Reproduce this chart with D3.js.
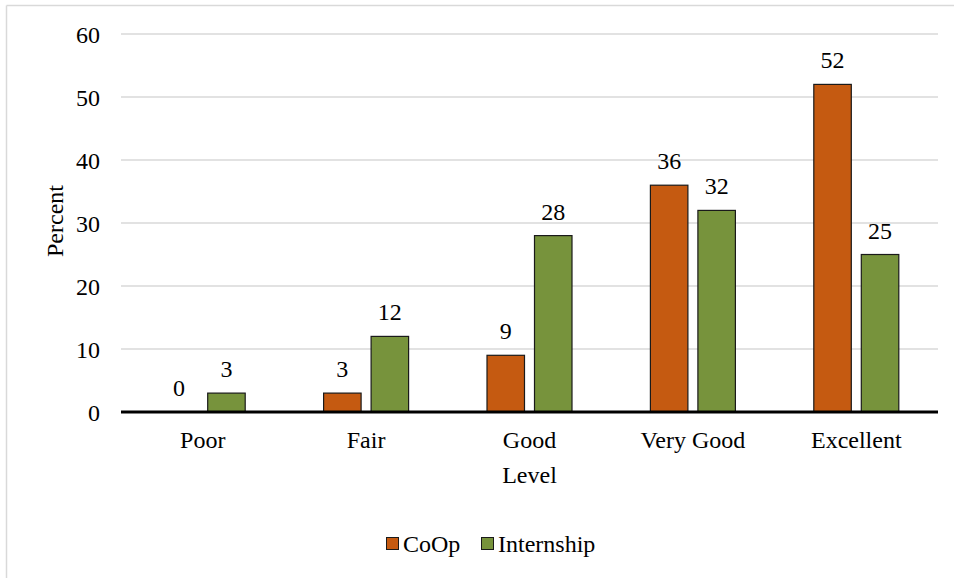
<!DOCTYPE html>
<html>
<head>
<meta charset="utf-8">
<script src="https://cdn.jsdelivr.net/npm/d3@7"></script>
<style>
  html, body { margin: 0; padding: 0; background: #fff; }
  svg { display: block; }
  svg text { font-family: "Times New Roman", "Liberation Serif", Tinos, "DejaVu Serif", serif !important; fill: #000; }
</style>
</head>
<body>
<svg id="chart" width="954" height="578"></svg>
<script>
// Rating levels and percentage of respondents for each program type
const levels = ["Poor", "Fair", "Good", "Very Good", "Excellent"];
const coop = [0, 3, 9, 36, 52];
const internship = [3, 12, 28, 32, 25];
const seriesNames = ["CoOp", "Internship"];
const seriesColors = ["#C55A11", "#77933C"];
const yTicks = [0, 10, 20, 30, 40, 50, 60];

const FONT = "'Times New Roman', 'Liberation Serif', serif";
const svg = d3.select("#chart");
const W = 954, H = 578;
const plot = { left: 121, right: 938, top: 34, bottom: 412 };

// Frame lines of the chart area
svg.append("line").attr("x1", 6.5).attr("x2", W).attr("y1", 5.5).attr("y2", 5.5)
  .attr("stroke", "#d9d9d9").attr("stroke-width", 1.5);
svg.append("line").attr("x1", 6.5).attr("x2", 6.5).attr("y1", 5.5).attr("y2", H)
  .attr("stroke", "#d9d9d9").attr("stroke-width", 1.5);

const x = d3.scaleBand().domain(levels).range([plot.left, plot.right]).padding(0);
const y = d3.scaleLinear().domain([0, 60]).range([plot.bottom, plot.top]);

// Two bars per category, centred on the category with a small gap between them
const barW = 37.5, barGap = 10;
const offset = j => (j === 0 ? -(barW + barGap / 2) : barGap / 2);

// Horizontal gridlines
svg.append("g").selectAll("line").data(yTicks.filter(t => t > 0)).join("line")
  .attr("x1", plot.left).attr("x2", plot.right)
  .attr("y1", d => y(d)).attr("y2", d => y(d))
  .attr("stroke", "#d9d9d9").attr("stroke-width", 1.5);

// Y axis tick labels
const yAxis = d3.axisLeft(y).tickValues(yTicks).tickSize(0).tickPadding(0);
const yg = svg.append("g").attr("transform", `translate(${plot.left - 21},0)`).call(yAxis)
  .attr("font-family", FONT).attr("font-size", 24);
yg.select(".domain").remove();
yg.selectAll("text").attr("fill", "#000").attr("dy", "0.35em");

// Bars
const data = levels.map((lv, i) => ({ level: lv, values: [coop[i], internship[i]] }));
const groups = svg.append("g").selectAll("g").data(data).join("g")
  .attr("transform", d => `translate(${x(d.level) + x.bandwidth() / 2},0)`);

groups.selectAll("rect").data(d => d.values.map((v, j) => ({ v, j }))).join("rect")
  .attr("x", d => offset(d.j))
  .attr("width", barW)
  .attr("y", d => y(d.v))
  .attr("height", d => y(0) - y(d.v))
  .attr("fill", d => seriesColors[d.j])
  .attr("stroke", d => d.v > 0 ? "#1a1a1a" : "none")
  .attr("stroke-width", 1.2);

// Value labels above each bar
groups.selectAll("text.val").data(d => d.values.map((v, j) => ({ v, j }))).join("text")
  .attr("class", "val")
  .attr("x", d => offset(d.j) + barW / 2)
  .attr("y", d => y(d.v) - 16)
  .attr("text-anchor", "middle")
  .attr("font-family", FONT)
  .attr("font-size", 24)
  .text(d => d.v);

// Zero baseline
svg.append("line").attr("x1", plot.left).attr("x2", plot.right)
  .attr("y1", y(0)).attr("y2", y(0))
  .attr("stroke", "#000").attr("stroke-width", 3);

// Category labels
const xAxis = d3.axisBottom(x).tickSize(0).tickPadding(0);
const xg = svg.append("g").attr("transform", `translate(0,${plot.bottom})`).call(xAxis)
  .attr("font-family", FONT).attr("font-size", 24);
xg.select(".domain").remove();
xg.selectAll("text").attr("fill", "#000").attr("dy", null).attr("y", 36);

// Axis titles
svg.append("text").attr("x", (plot.left + plot.right) / 2).attr("y", 483)
  .attr("text-anchor", "middle").attr("font-family", FONT).attr("font-size", 24).text("Level");
svg.append("text").attr("transform", "translate(63,221) rotate(-90)")
  .attr("text-anchor", "middle").attr("font-family", FONT).attr("font-size", 24).text("Percent");

// Legend
const legend = svg.append("g").attr("transform", "translate(386,537)");
const items = [{ name: seriesNames[0], color: seriesColors[0], x: 0 }, { name: seriesNames[1], color: seriesColors[1], x: 95 }];
items.forEach(it => {
  legend.append("rect").attr("x", it.x + 0.5).attr("y", 0.5).attr("width", 12).attr("height", 12)
    .attr("fill", it.color).attr("stroke", "#1a1a1a").attr("stroke-width", 1);
  legend.append("text").attr("x", it.x + 17).attr("y", 15)
    .attr("font-family", FONT).attr("font-size", 24).text(it.name);
});
</script>
</body>
</html>
